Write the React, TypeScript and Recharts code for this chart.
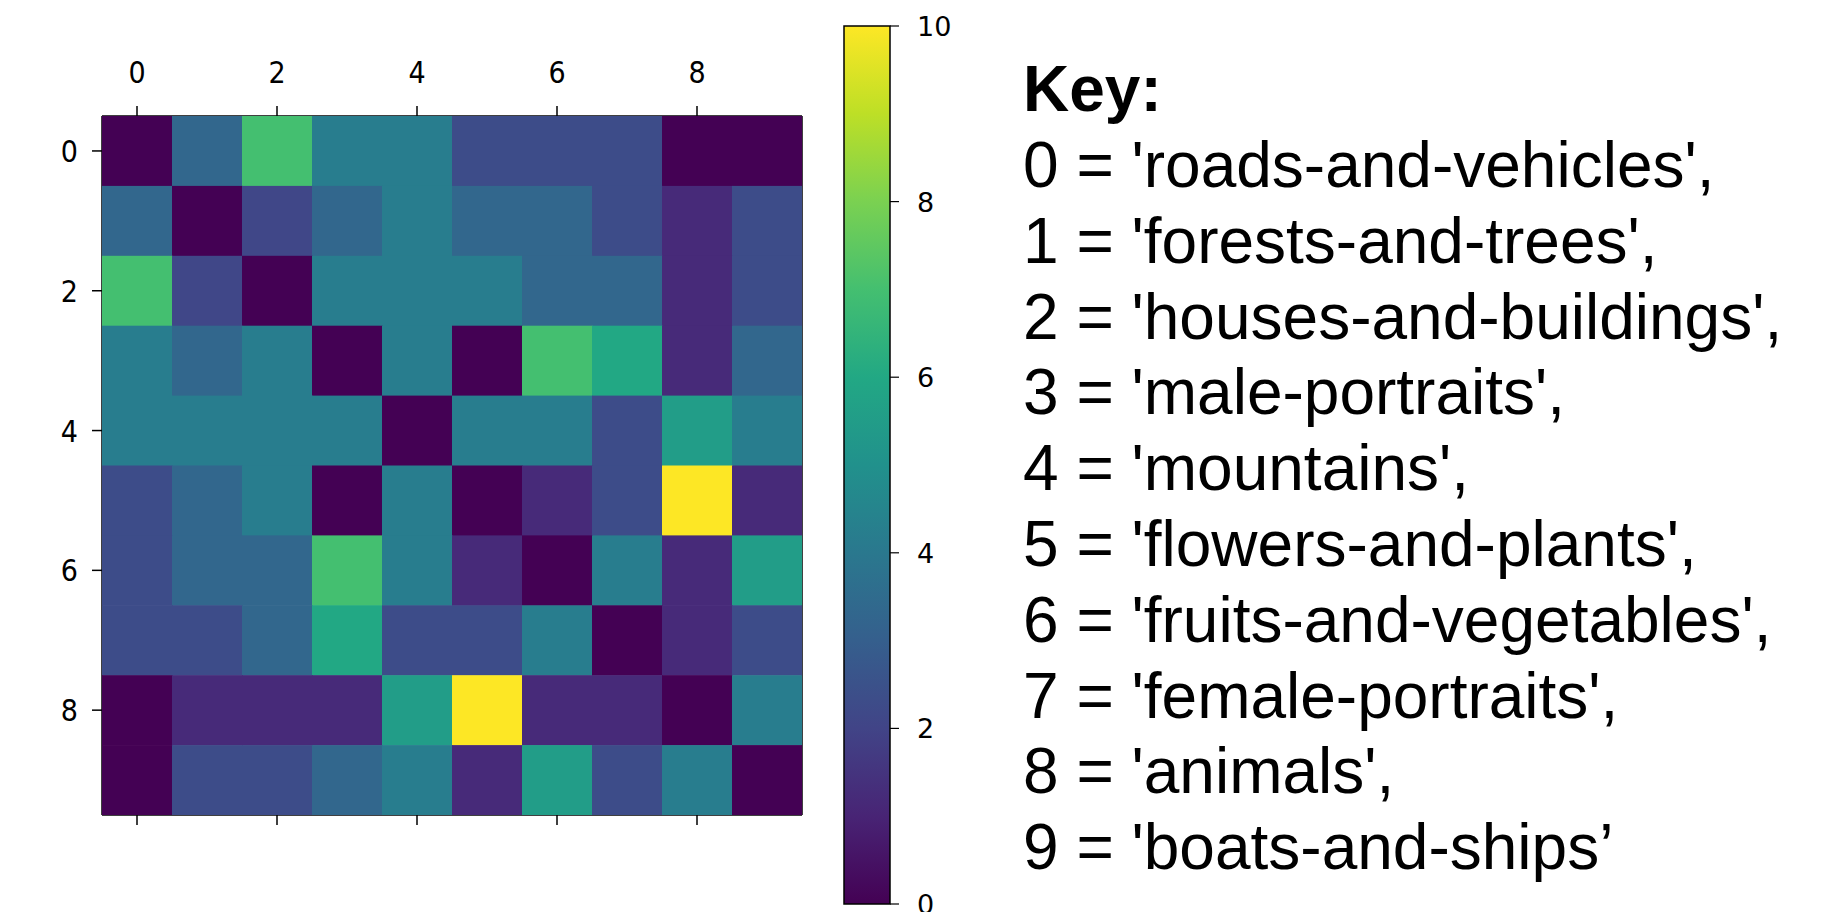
import React from 'react';
import { Bar, BarChart, Scatter, ScatterChart, XAxis, YAxis } from 'recharts';

// rows of the 10x10 similarity matrix (0..10)
const row0 = [0, 3.3, 7, 4.2, 4.2, 2.3, 2.3, 2.3, 0, 0];
const row1 = [3.3, 0, 2.1, 3.3, 4.2, 3.3, 3.3, 2.3, 1.2, 2.3];
const row2 = [7, 2.1, 0, 4.2, 4.2, 4.2, 3.3, 3.3, 1.2, 2.3];
const row3 = [4.2, 3.3, 4.2, 0, 4.2, 0, 7, 6, 1.2, 3.3];
const row4 = [4.2, 4.2, 4.2, 4.2, 0, 4.2, 4.2, 2.3, 5.5, 4.2];
const row5 = [2.3, 3.3, 4.2, 0, 4.2, 0, 1.2, 2.3, 10, 1.2];
const row6 = [2.3, 3.3, 3.3, 7, 4.2, 1.2, 0, 4.2, 1.2, 5.5];
const row7 = [2.3, 2.3, 3.3, 6, 2.3, 2.3, 4.2, 0, 1.2, 2.3];
const row8 = [0, 1.2, 1.2, 1.2, 5.5, 10, 1.2, 1.2, 0, 4.2];
const row9 = [0, 2.3, 2.3, 3.3, 4.2, 1.2, 5.5, 2.3, 4.2, 0];
const rows = [row0, row1, row2, row3, row4, row5, row6, row7, row8, row9];

const axisTicks = [0, 2, 4, 6, 8];
const colorbarTicks = [0, 2, 4, 6, 8, 10];
const keyLabels = [
  'roads-and-vehicles', 'forests-and-trees', 'houses-and-buildings', 'male-portraits', 'mountains',
  'flowers-and-plants', 'fruits-and-vegetables', 'female-portraits', 'animals', 'boats-and-ships',
];

const VIRIDIS = ['#440154', '#482475', '#414487', '#355f8d', '#2a788e', '#21918c', '#22a884', '#44bf70', '#7ad151', '#bddf26', '#fde725'];
const V_MAX = 10;

function viridis(v: number) {
  const t = Math.max(0, Math.min(1, v / V_MAX)) * 10;
  const i = Math.min(9, Math.floor(t));
  const f = t - i;
  const a = VIRIDIS[i], b = VIRIDIS[i + 1];
  const ch = (h: string, k: number) => parseInt(h.slice(1 + k * 2, 3 + k * 2), 16);
  const mix = [0, 1, 2].map(k => Math.round(ch(a, k) + (ch(b, k) - ch(a, k)) * f));
  return `rgb(${mix.join(',')})`;
}

const cells = rows.flatMap((r, y) => r.map((v, x) => ({ x, y, v })));

const PLOT_W = 700;
const PLOT_H = 699;
const axisStroke = { stroke: '#000', strokeWidth: 1.5 };
const HEAT_FONT = '"DejaVu Sans Condensed", "DejaVu Sans"';

const HeatCell = (props: any) => {
  const { cx, cy, payload } = props;
  const w = PLOT_W / 10, h = PLOT_H / 10;
  return <rect x={cx - w / 2} y={cy - h / 2} width={w + 0.6} height={h + 0.6} fill={viridis(payload.v)} />;
};

const TopTick = ({ x, y, payload }: any) => (
  <text x={x} y={y} textAnchor="middle" fontSize={30} fontFamily={HEAT_FONT} style={{ fontSize: '30px' }} fill="#000">{payload.value}</text>
);
const LeftTick = ({ x, y, payload }: any) => (
  <text x={x} y={y} dy={11} textAnchor="end" fontSize={30} fontFamily={HEAT_FONT} style={{ fontSize: '30px' }} fill="#000">{payload.value}</text>
);
const BarTick = ({ x, y, payload }: any) => (
  <text x={x} y={y} dy={10} textAnchor="start" fontSize={27} fontFamily="DejaVu Sans" style={{ fontSize: '27px' }} fill="#000">{payload.value}</text>
);
const NoTick = () => <g />;

export default function App() {
  return (
    <div style={{ position: 'absolute', left: 0, top: 0, width: 1832, height: 912, background: '#fff' }}>
      {/* heatmap */}
      <div style={{ position: 'absolute', left: 0, top: 0 }}>
        <ScatterChart width={830} height={861} margin={{ top: 66, left: 52, right: 27, bottom: 26 }}>
          <Scatter data={cells} dataKey="v" xAxisId="top" yAxisId="left" shape={HeatCell} isAnimationActive={false} />
          <Scatter data={cells} dataKey="v" xAxisId="bottom" yAxisId="right" shape={NoTick} isAnimationActive={false} />
          <XAxis xAxisId="top" orientation="top" type="number" dataKey="x" domain={[-0.5, 9.5]} ticks={axisTicks} interval={0}
            allowDataOverflow height={50} tickSize={10} tickMargin={23} axisLine={axisStroke} tickLine={axisStroke} tick={TopTick} />
          <XAxis xAxisId="bottom" orientation="bottom" type="number" dataKey="x" domain={[-0.5, 9.5]} ticks={axisTicks} interval={0}
            allowDataOverflow height={20} tickSize={10} axisLine={axisStroke} tickLine={axisStroke} tick={NoTick} />
          <YAxis yAxisId="left" type="number" dataKey="y" reversed domain={[-0.5, 9.5]} ticks={axisTicks} interval={0}
            allowDataOverflow width={50} tickSize={10} tickMargin={14} axisLine={axisStroke} tickLine={axisStroke} tick={LeftTick} />
          <YAxis yAxisId="right" orientation="right" type="number" dataKey="y" reversed domain={[-0.5, 9.5]} width={1}
            allowDataOverflow axisLine={axisStroke} tickLine={false} tick={false} />
        </ScatterChart>
      </div>

      {/* colorbar */}
      <div style={{ position: 'absolute', left: 834, top: 0 }}>
        <BarChart width={130} height={912} data={[{ name: 'cb', v: V_MAX }]} barCategoryGap={0}
          margin={{ top: 26, right: 14, bottom: 8, left: 10 }}>
          <defs>
            <linearGradient id="viridisGrad" x1="0" y1="1" x2="0" y2="0">
              {VIRIDIS.map((c, i) => <stop key={i} offset={`${i * 10}%`} stopColor={c} />)}
            </linearGradient>
          </defs>
          <XAxis dataKey="name" hide />
          <YAxis orientation="right" type="number" domain={[0, V_MAX]} ticks={colorbarTicks} interval={0} width={60}
            axisLine={false} tickSize={9} tickMargin={18} tickLine={{ stroke: '#000', strokeWidth: 1.2 }} tick={BarTick} />
          <Bar dataKey="v" fill="url(#viridisGrad)" stroke="#000" strokeWidth={1.5} isAnimationActive={false} />
        </BarChart>
      </div>

      {/* key */}
      <svg width={1832} height={912} style={{ position: 'absolute', left: 0, top: 0 }}>
        <text x={1023} y={111} fontFamily='"Liberation Sans", Arial, sans-serif' fontSize={64} fontWeight="bold" fill="#000">Key:</text>
        {keyLabels.map((lab, i) => (
          <text key={lab} x={1023} y={187 + i * 75.8} fontFamily='"Liberation Sans", Arial, sans-serif' fontSize={64} fill="#000">
            {i < keyLabels.length - 1 ? `${i} = '${lab}',` : `${i} = '${lab}\u2019`}
          </text>
        ))}
      </svg>
    </div>
  );
}
